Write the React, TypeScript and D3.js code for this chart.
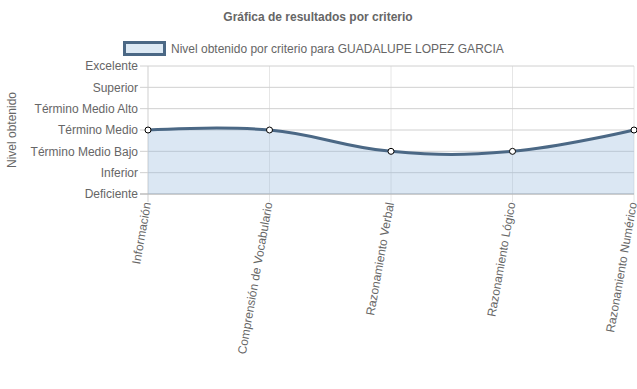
import React, { useRef, useEffect } from 'react';
import * as d3 from 'd3';

const levels = ['Deficiente', 'Inferior', 'Término Medio Bajo', 'Término Medio', 'Término Medio Alto', 'Superior', 'Excelente'];
const criteria = ['Información', 'Comprensión de Vocabulario', 'Razonamiento Verbal', 'Razonamiento Lógico', 'Razonamiento Numérico'];
const scores = [3, 3, 2, 2, 3];

const App = () => {
  const svgRef = useRef<SVGSVGElement>(null);

  useEffect(() => {
    const width = 637;
    const height = 389;
    const margin = { top: 66, right: 3, bottom: 195, left: 148 };
    const font = '"Liberation Sans", Arial, sans-serif';

    const svg = d3.select(svgRef.current)
      .attr('width', width)
      .attr('height', height)
      .style('font-family', font);
    svg.selectAll('*').remove();

    const x = d3.scalePoint<string>()
      .domain(criteria)
      .range([margin.left, width - margin.right]);

    const y = d3.scaleLinear()
      .domain([0, levels.length - 1])
      .range([height - margin.bottom, margin.top]);

    // title
    svg.append('text')
      .attr('x', 318)
      .attr('y', 21)
      .attr('text-anchor', 'middle')
      .attr('fill', '#666')
      .style('font-size', '12px')
      .style('font-weight', 'bold')
      .text('Gráfica de resultados por criterio');

    // legend
    svg.append('rect')
      .attr('x', 124.5).attr('y', 42.5)
      .attr('width', 40).attr('height', 12)
      .attr('fill', '#dde9f4')
      .attr('stroke', '#4b6885')
      .attr('stroke-width', 3);
    svg.append('text')
      .attr('x', 171)
      .attr('y', 53)
      .attr('fill', '#666')
      .style('font-size', '12px')
      .text('Nivel obtenido por criterio para GUADALUPE LOPEZ GARCIA');

    // vertical grid
    svg.append('g')
      .selectAll('line')
      .data(criteria)
      .join('line')
      .attr('x1', d => x(d)!)
      .attr('x2', d => x(d)!)
      .attr('y1', margin.top)
      .attr('y2', height - margin.bottom + 8)
      .attr('stroke', d => d === criteria[0] ? '#cfcfcf' : '#e6e6e6')
      .attr('stroke-width', 1);

    // horizontal grid
    const yTicks = d3.range(levels.length);
    svg.append('g')
      .selectAll('line')
      .data(yTicks)
      .join('line')
      .attr('x1', margin.left - 8)
      .attr('x2', width - margin.right)
      .attr('y1', d => y(d))
      .attr('y2', d => y(d))
      .attr('stroke', d => d === 0 ? '#bdbdbd' : '#d0d0d0')
      .attr('stroke-width', d => d === 0 ? 1.5 : 1);

    // y labels
    svg.append('g')
      .selectAll('text')
      .data(yTicks)
      .join('text')
      .attr('x', margin.left - 10)
      .attr('y', d => y(d))
      .attr('dy', '0.35em')
      .attr('text-anchor', 'end')
      .attr('fill', '#666')
      .style('font-size', '12px')
      .text(d => levels[d]);

    // y title
    svg.append('text')
      .attr('transform', `translate(16,${(y(0) + y(6)) / 2}) rotate(-90)`)
      .attr('text-anchor', 'middle')
      .attr('fill', '#666')
      .style('font-size', '12px')
      .text('Nivel obtenido');

    // x labels
    svg.append('g')
      .selectAll('text')
      .data(criteria)
      .join('text')
      .attr('transform', d => `translate(${x(d)! + 3},${height - margin.bottom + 9}) rotate(-80)`)
      .attr('text-anchor', 'end')
      .attr('fill', '#666')
      .style('font-size', '12px')
      .text(d => d);

    const curve = d3.curveCardinal.tension(-0.2);

    const area = d3.area<number>()
      .x((_, i) => x(criteria[i])!)
      .y0(y(0))
      .y1(d => y(d))
      .curve(curve);

    const line = d3.line<number>()
      .x((_, i) => x(criteria[i])!)
      .y(d => y(d))
      .curve(curve);

    svg.append('path')
      .datum(scores)
      .attr('d', area)
      .attr('fill', 'rgba(151,187,220,0.35)');

    svg.append('path')
      .datum(scores)
      .attr('d', line)
      .attr('fill', 'none')
      .attr('stroke', '#4b6885')
      .attr('stroke-width', 3);

    svg.append('g')
      .selectAll('circle')
      .data(scores)
      .join('circle')
      .attr('cx', (_, i) => x(criteria[i])!)
      .attr('cy', d => y(d))
      .attr('r', 3)
      .attr('fill', '#fff')
      .attr('stroke', '#000')
      .attr('stroke-width', 1);
  }, []);

  return (
    <div style={{ position: 'absolute', left: 0, top: 0 }}>
      <svg ref={svgRef} style={{ display: 'block' }}></svg>
    </div>
  );
};

export default App;
